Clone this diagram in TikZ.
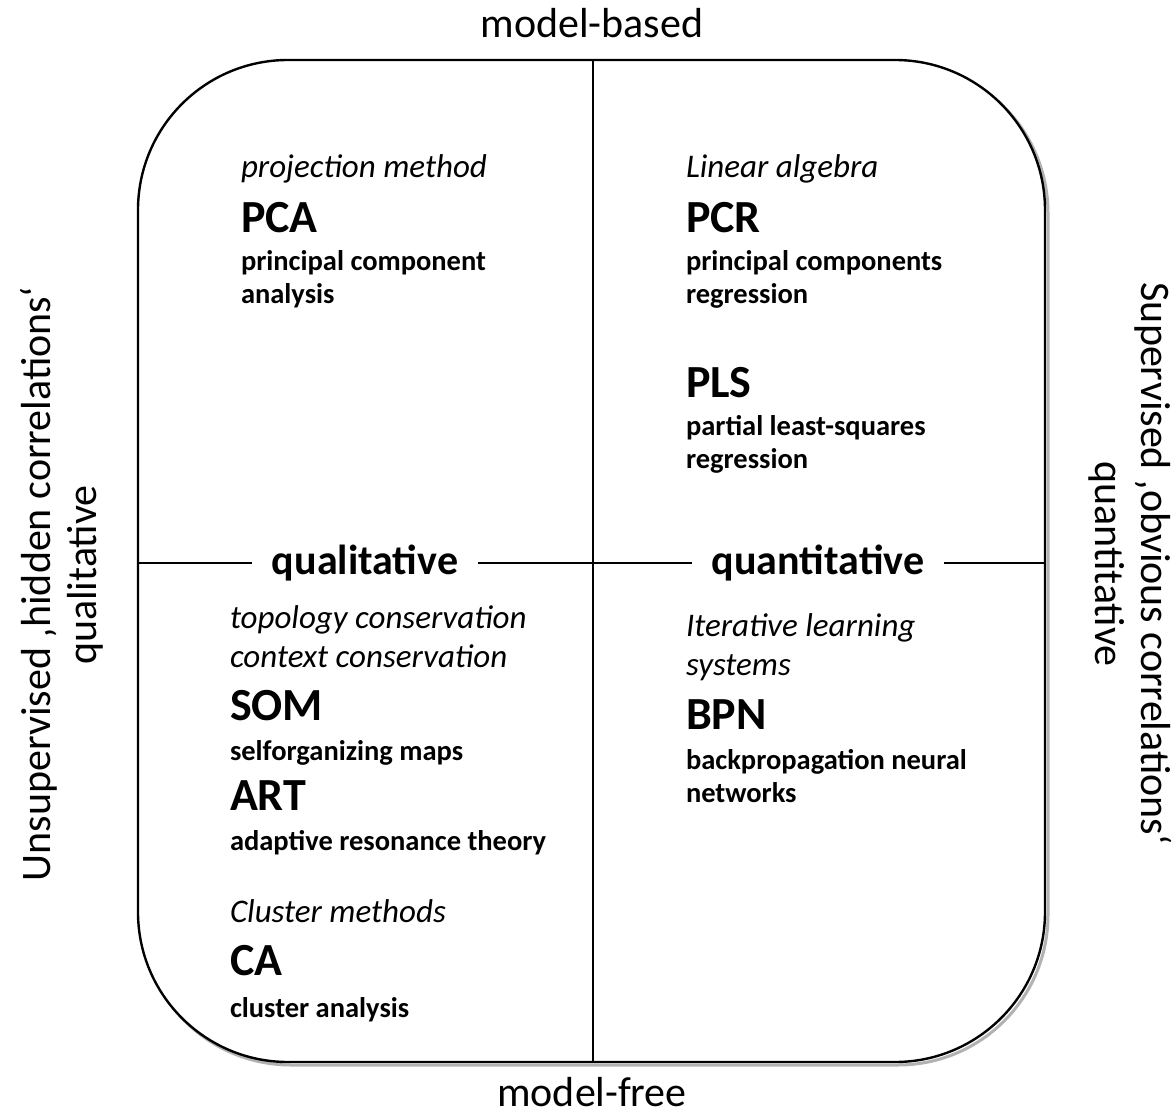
\documentclass[tikz,border=0pt]{standalone}
\usepackage{fontspec}
\setmainfont{Carlito}
\usepackage{tikz}
\usetikzlibrary{positioning}

\begin{document}
\begin{tikzpicture}[
  x=1pt, y=-1pt,
  every node/.style={inner sep=0pt, outer sep=0pt},
  axislabel/.style={font=\fontsize{42}{50}\selectfont, anchor=base},
  topic/.style={font=\fontsize{33}{39}\selectfont\itshape, anchor=base west, align=left},
  acro/.style={font=\fontsize{46}{50}\selectfont\bfseries, anchor=base west},
  desc/.style={font=\fontsize{28.5}{33}\selectfont\bfseries, anchor=base west, align=left},
  quadlabel/.style={font=\fontsize{42}{50}\selectfont\bfseries, fill=white, inner xsep=20pt, inner ysep=2pt},
  frame/.style={line width=2.4pt, rounded corners=150pt},
  divider/.style={line width=1.1pt}
]
\useasboundingbox (0,0) rectangle (1175,1115);
\coordinate (nw) at (138,60);
\coordinate (se) at (1045,1062);
\coordinate (mid) at (593,563);

\draw[frame, black!30, line width=3pt] ([shift={(3,3)}]nw) rectangle ([shift={(3,3)}]se);
\draw[frame, fill=white] (nw) rectangle (se);
\draw[divider] (nw -| mid) -- (se -| mid);
\draw[divider] (nw |- mid) -- (se |- mid);

\node[axislabel] (based) at (592,38) {model-based};
\node[axislabel] (free) at (592,1106) {model-free};
\node[axislabel, rotate=90] (unsup) at (50,584) {Unsupervised ‚hidden correlations‘};
\node[axislabel, rotate=90] (qualside) at (96,575) {qualitative};
\node[axislabel, rotate=-90] (sup) at (1141,564) {Supervised ‚obvious correlations‘};
\node[axislabel, rotate=-90] (quantside) at (1095,564) {quantitative};

\node[quadlabel] (qual) at (365,563) {qualitative};
\node[quadlabel] (quant) at (818,563) {quantitative};

\node[topic] (proj) at (241,178) {projection method};
\node[acro] (pca) at (241,233) {PCA};
\node[desc] (pcad) at (241,304) {principal component\\analysis};

\node[topic] (linalg) at (686,178) {Linear algebra};
\node[acro] (pcr) at (686,233) {PCR};
\node[desc] (pcrd) at (686,304) {principal components\\regression};
\node[acro] (pls) at (686,397) {PLS};
\node[desc] (plsd) at (686,468) {partial least-squares\\regression};

\node[topic] (topo) at (230,667) {topology conservation\\context conservation};
\node[acro] (som) at (230,720) {SOM};
\node[desc] (somd) at (230,760) {selforganizing maps};
\node[acro] (art) at (230,810) {ART};
\node[desc] (artd) at (230,850) {adaptive resonance theory};
\node[topic] (clus) at (230,922) {Cluster methods};
\node[acro] (ca) at (230,975) {CA};
\node[desc] (cad) at (230,1017) {cluster analysis};

\node[topic] (iter) at (686,675) {Iterative learning\\systems};
\node[acro] (bpn) at (686,729) {BPN};
\node[desc] (bpnd) at (686,802) {backpropagation neural\\networks};
\end{tikzpicture}
\end{document}
